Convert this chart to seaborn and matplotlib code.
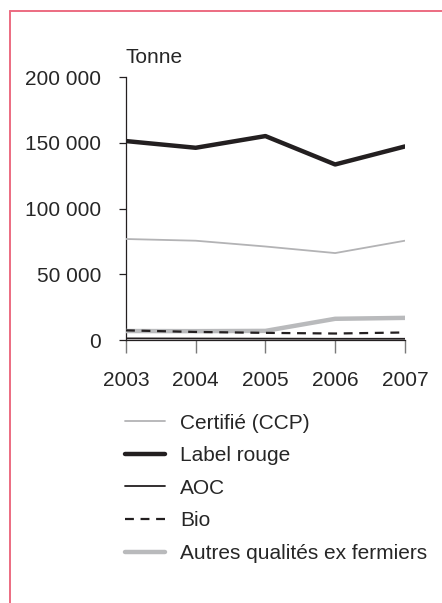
import matplotlib
matplotlib.use("Agg")
import matplotlib.pyplot as plt
import matplotlib.ticker as mticker
from matplotlib.lines import Line2D
import pandas as pd
import seaborn as sns

# Data (tonnes)
years = [2003, 2004, 2005, 2006, 2007]
certifie = [76900, 75600, 71200, 66200, 75600]
label_rouge = [151400, 146300, 155200, 133600, 147300]
aoc = [1300, 1200, 1100, 1000, 1000]
bio = [7400, 6200, 5500, 5000, 5800]
autres = [6900, 6800, 7000, 16200, 16900]

names = ["Certifié (CCP)", "Label rouge", "AOC", "Bio", "Autres qualités ex fermiers"]
values = [certifie, label_rouge, aoc, bio, autres]
colors = ["#b3b3b5", "#231f20", "#231f20", "#231f20", "#b9babc"]
widths = [1.3, 3.2, 1.3, 1.6, 3.2]
styles = ["-", "-", "-", (0, (4, 3)), "-"]

sns.set_style("white")
plt.rcParams["font.family"] = ["Liberation Sans", "DejaVu Sans"]
FS = 15

fig = plt.figure(figsize=(4.42, 6.03), dpi=100)
ax = fig.add_axes([0.285, 0.436, 0.631, 0.436])

# draw order: thick grey behind, then others
order = [4, 0, 3, 2, 1]
for i in order:
    df = pd.DataFrame({"year": years, "t": values[i]})
    sns.lineplot(data=df, x="year", y="t", ax=ax, color=colors[i],
                 linewidth=widths[i], linestyle=styles[i], label=names[i],
                 legend=False, zorder=3 + order.index(i))

ax.set_xlim(2003, 2007)
ax.set_ylim(0, 200000)
ax.set_xticks(years)
ax.set_yticks([0, 50000, 100000, 150000, 200000])
ax.yaxis.set_major_formatter(mticker.FuncFormatter(
    lambda v, p: f"{int(v):,}".replace(",", " ")))
ax.set_xlabel("")
ax.set_ylabel("")
for s in ["top", "right"]:
    ax.spines[s].set_visible(False)
ax.spines["left"].set_color("#231f20")
ax.spines["left"].set_linewidth(0.9)
ax.spines["bottom"].set_color("#231f20")
ax.spines["bottom"].set_linewidth(0.9)
ax.tick_params(axis="y", length=5, width=0.9, color="#231f20",
               labelsize=FS, pad=13, left=True)
ax.tick_params(axis="x", length=9.5, width=1.0, color="#7a7a7a",
               labelsize=FS, pad=13, bottom=True)
ax.patch.set_alpha(0)
for sp in ax.spines.values():
    sp.set_clip_on(False)

fig.text(0.283, 0.905, "Tonne", fontsize=FS, ha="left", va="center")

handles = [Line2D([0], [0], color=colors[i], linewidth=widths[i], linestyle=styles[i])
           for i in range(5)]
fig.legend(handles, names, loc="upper left", bbox_to_anchor=(0.283, 0.314),
           frameon=False, fontsize=FS, handlelength=1.92, handletextpad=0.72,
           labelspacing=0.65, borderpad=0, borderaxespad=0)

frame_col = "#ec6b81"
fig.add_artist(Line2D([0.0226, 1.0], [0.982, 0.982], color=frame_col,
                      linewidth=1.4, transform=fig.transFigure))
fig.add_artist(Line2D([0.0226, 0.0226], [0.0, 0.982], color=frame_col,
                      linewidth=1.4, transform=fig.transFigure))

fig.savefig("out.png", dpi=100)
